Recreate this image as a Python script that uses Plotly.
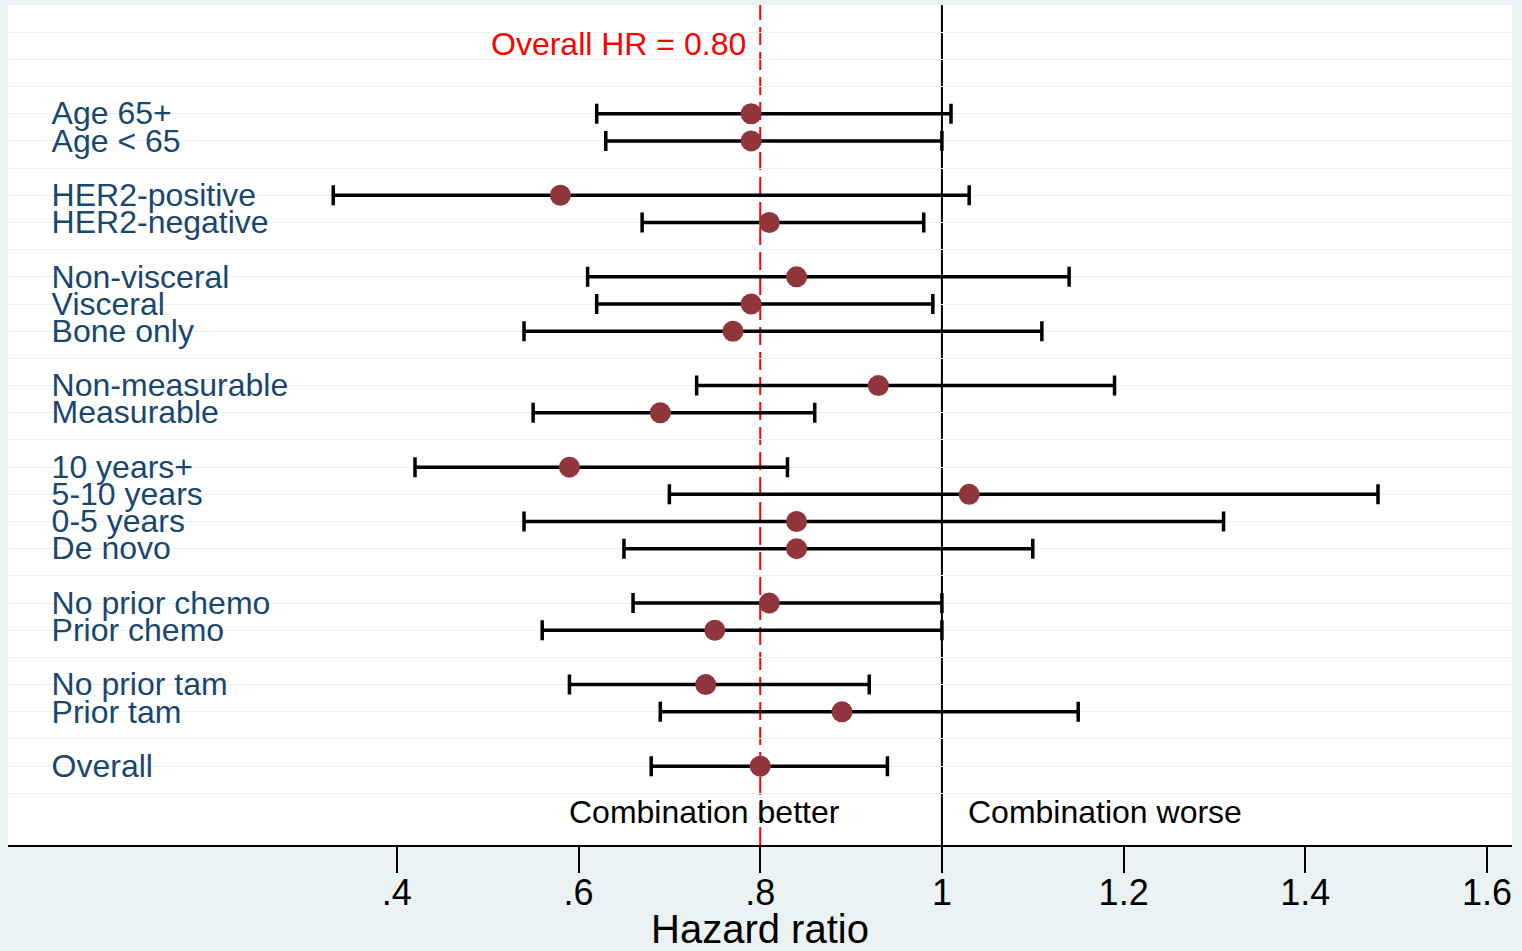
import plotly.graph_objects as go

# ---- data ----
labels = ["Age 65+", "Age < 65",
          "HER2-positive", "HER2-negative",
          "Non-visceral", "Visceral", "Bone only",
          "Non-measurable", "Measurable",
          "10 years+", "5-10 years", "0-5 years", "De novo",
          "No prior chemo", "Prior chemo",
          "No prior tam", "Prior tam",
          "Overall"]
group_sizes = [2, 2, 3, 2, 4, 2, 2, 1]
hr = [0.79, 0.79, 0.58, 0.81, 0.84, 0.79, 0.77, 0.93, 0.69,
      0.59, 1.03, 0.84, 0.84, 0.81, 0.75, 0.74, 0.89, 0.80]
lo = [0.62, 0.63, 0.33, 0.67, 0.61, 0.62, 0.54, 0.73, 0.55,
      0.42, 0.70, 0.54, 0.65, 0.66, 0.56, 0.59, 0.69, 0.68]
hi = [1.01, 1.00, 1.03, 0.98, 1.14, 0.99, 1.11, 1.19, 0.86,
      0.83, 1.48, 1.31, 1.10, 1.00, 1.00, 0.92, 1.15, 0.94]
overall_hr = 0.80
tick_vals = [0.4, 0.6, 0.8, 1.0, 1.2, 1.4, 1.6]
tick_text = [".4", ".6", ".8", "1", "1.2", "1.4", "1.6"]

# row positions: groups separated by a blank row, starting at row 3
rows = []
r = 3
for g in group_sizes:
    for _ in range(g):
        rows.append(r)
        r += 1
    r += 1

FONT = "Liberation Sans, Arial, sans-serif"
NAVY = "#1A476F"
MAROON = "#90353B"
BG = "#EAF2F3"

fig = go.Figure()

# confidence intervals + point estimates
fig.add_trace(go.Scatter(
    x=hr, y=rows, mode="markers",
    marker=dict(size=21, color=MAROON, line=dict(width=0)),
    error_x=dict(type="data", symmetric=False,
                 array=[h - m for h, m in zip(hi, hr)],
                 arrayminus=[m - l for m, l in zip(hr, lo)],
                 color="black", thickness=3.5, width=10),
    hoverinfo="skip", showlegend=False))

# row labels (nudged slightly down to centre the glyphs on the row)
fig.add_trace(go.Scatter(
    x=[0.02] * len(labels), y=[v + 0.1 for v in rows], mode="text",
    text=labels, textposition="middle right",
    textfont=dict(family=FONT, size=32, color=NAVY),
    hoverinfo="skip", showlegend=False))

# reference lines
fig.add_shape(type="line", x0=overall_hr, x1=overall_hr, xref="x",
              y0=0, y1=1, yref="paper",
              line=dict(color="red", width=2, dash="18px,7px"), layer="below")
fig.add_shape(type="line", x0=1, x1=1, xref="x", y0=0, y1=1, yref="paper",
              line=dict(color="black", width=2), layer="below")

# text annotations
fig.add_annotation(x=overall_hr, y=0.42, xref="x", yref="y",
                   text="Overall HR = %.2f" % overall_hr, showarrow=False,
                   xanchor="right", xshift=-12, yanchor="middle",
                   font=dict(family=FONT, size=32, color="red"))
fig.add_annotation(x=0.890, y=28.7, xref="x", yref="y",
                   text="Combination better", showarrow=False,
                   xanchor="right", yanchor="middle",
                   font=dict(family=FONT, size=32, color="black"))
fig.add_annotation(x=1.027, y=28.7, xref="x", yref="y",
                   text="Combination worse", showarrow=False,
                   xanchor="left", yanchor="middle",
                   font=dict(family=FONT, size=32, color="black"))

fig.update_layout(
    width=1522, height=951,
    margin=dict(l=8, r=10, t=5, b=106),
    paper_bgcolor=BG, plot_bgcolor="white",
    font=dict(family=FONT, color="black"),
    xaxis=dict(range=[-0.028, 1.6275], tickvals=tick_vals, ticktext=tick_text,
               showgrid=False, zeroline=False, showline=True,
               linecolor="black", linewidth=2, ticks="outside", ticklen=26,
               tickwidth=2, tickcolor="black", automargin=False,
               ticklabelstandoff=-11,
               tickfont=dict(family=FONT, size=36, color="black"),
               title=dict(text="Hazard ratio", standoff=4,
                          font=dict(family=FONT, size=40, color="black"))),
    yaxis=dict(range=[29.9, -1], tickvals=list(range(0, 29)),
               showticklabels=False, showgrid=True, gridcolor=BG,
               gridwidth=1, zeroline=False, showline=False, ticks="",
               automargin=False),
)

fig.write_html(
    "out.html",
    config={"displayModeBar": False},
    post_script="document.body.style.margin='0';"
                "document.body.style.background='%s';" % BG,
)
